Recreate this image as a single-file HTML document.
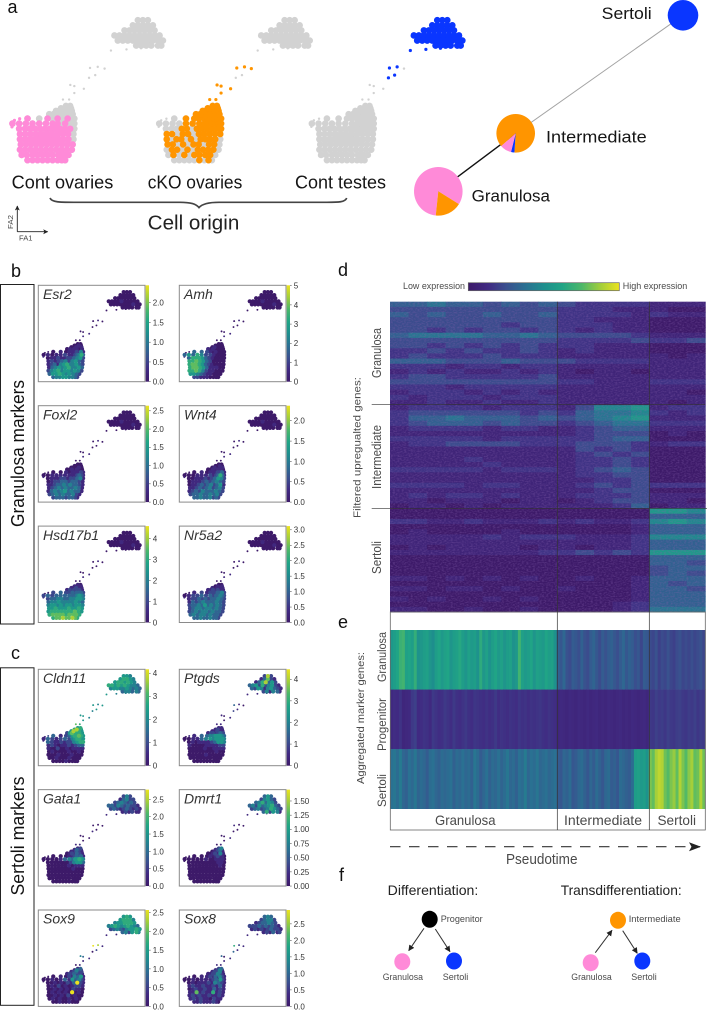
<!DOCTYPE html>
<html lang="en">
<head>
<meta charset="utf-8">
<title>Cell origin, markers and pseudotime figure</title>
<style>
html,body{margin:0;padding:0;background:#fff;width:707px;height:1010px;overflow:hidden}
svg{display:block;font-family:"Liberation Sans",sans-serif}
.letter{font-size:18px;fill:#111}
.big{font-size:18px;fill:#151515}
.grey{fill:#4a4a4a}
</style>
</head>
<body>
<svg id="figure" width="707" height="1010" viewBox="0 0 707 1010" xmlns="http://www.w3.org/2000/svg">
<defs>
  <linearGradient id="viridis-v" x1="0" y1="1" x2="0" y2="0"></linearGradient>
  <linearGradient id="viridis-h" x1="0" y1="0" x2="1" y2="0"></linearGradient>
  <marker id="arrow-head" markerWidth="7" markerHeight="7" refX="5.5" refY="3" orient="auto" markerUnits="userSpaceOnUse"><path d="M0,0 L6,3 L0,6 Z" fill="#222"/></marker>
  <marker id="axis-head" markerWidth="6" markerHeight="6" refX="4.5" refY="2.5" orient="auto" markerUnits="userSpaceOnUse"><path d="M0,0 L5,2.5 L0,5 L1.2,2.5 Z" fill="#222"/></marker>
  <marker id="big-head" markerWidth="13" markerHeight="10" refX="11" refY="4.5" orient="auto" markerUnits="userSpaceOnUse"><path d="M0,0 L12,4.5 L0,9 L2.5,4.5 Z" fill="#222"/></marker>
  <filter id="grain" x="0" y="0" width="100%" height="100%"><feTurbulence type="fractalNoise" baseFrequency="0.45 0.8" numOctaves="2" seed="7"/><feColorMatrix type="matrix" values="0 0 0 0 0.24  0 0 0 0 0.12  0 0 0 0 0.42  0 0 0 2.6 -1.05"/></filter>
</defs>

<rect width="707" height="1010" fill="#fff"/>

<!-- panel letters -->
<text class="letter" x="7.5" y="13">a</text>
<text class="letter" x="11" y="277">b</text>
<text class="letter" x="11" y="659">c</text>
<text class="letter" x="338" y="276">d</text>
<text class="letter" x="338" y="628">e</text>
<text class="letter" x="339" y="881">f</text>

<!-- panel a -->
<g id="origin-scatter"></g>
<text class="big" x="11.7" y="188.5" textLength="101.6" lengthAdjust="spacingAndGlyphs">Cont ovaries</text>
<text class="big" x="147.7" y="188.5" textLength="94.6" lengthAdjust="spacingAndGlyphs">cKO ovaries</text>
<text class="big" x="295" y="188.5" textLength="91" lengthAdjust="spacingAndGlyphs">Cont testes</text>
<path d="M50,198 C52,202.5 60,202.3 76,202.3 L180,202.3 C191,202.3 196,204 199,207.6 C202,204 208,202.3 219,202.3 L325,202.3 C338,202.3 345,202.5 346.7,198" fill="none" stroke="#444" stroke-width="1.7"/>
<text x="147.7" y="229.5" font-size="20" fill="#222" textLength="91.6" lengthAdjust="spacingAndGlyphs">Cell origin</text>
<line x1="17.3" y1="231.7" x2="17.3" y2="206" stroke="#222" stroke-width="0.9" marker-end="url(#axis-head)"/>
<line x1="17.3" y1="231.7" x2="47.7" y2="231.7" stroke="#222" stroke-width="0.9" marker-end="url(#axis-head)"/>
<text transform="translate(13,229) rotate(-90)" font-size="7.5" fill="#444" textLength="14" lengthAdjust="spacingAndGlyphs">FA2</text>
<text x="19" y="240.7" font-size="7.5" fill="#444" textLength="13.5" lengthAdjust="spacingAndGlyphs">FA1</text>

<!-- network -->
<line x1="515.7" y1="133.3" x2="683" y2="15.3" stroke="#a3a3a3" stroke-width="1"/>
<line x1="438.3" y1="191.3" x2="515.7" y2="133.3" stroke="#111" stroke-width="1.4"/>
<g id="pie-nodes"></g>
<text x="601.7" y="19" font-size="16.5" fill="#151515" textLength="50" lengthAdjust="spacingAndGlyphs">Sertoli</text>
<text x="546" y="142.7" font-size="16.5" fill="#151515" textLength="100.7" lengthAdjust="spacingAndGlyphs">Intermediate</text>
<text x="471.7" y="201.7" font-size="16.5" fill="#151515" textLength="78.3" lengthAdjust="spacingAndGlyphs">Granulosa</text>

<!-- panels b and c -->
<rect x="0.5" y="284.5" width="33.5" height="339.5" fill="#fff" stroke="#222" stroke-width="1"/>
<rect x="0.5" y="667.8" width="33.5" height="337.5" fill="#fff" stroke="#222" stroke-width="1"/>
<text transform="translate(24,453.5) rotate(-90)" text-anchor="middle" font-size="18" fill="#111" textLength="147" lengthAdjust="spacingAndGlyphs">Granulosa markers</text>
<text transform="translate(24,836) rotate(-90)" text-anchor="middle" font-size="18" fill="#111" textLength="119" lengthAdjust="spacingAndGlyphs">Sertoli markers</text>
<g id="gene-panels"></g>

<!-- panel d -->
<text class="grey" x="403" y="289.2" font-size="9.5" textLength="62" lengthAdjust="spacingAndGlyphs">Low expression</text>
<rect x="468.3" y="282.7" width="151" height="8" fill="url(#viridis-h)" stroke="#666" stroke-width="0.7"/>
<text class="grey" x="622.7" y="289.2" font-size="9.5" textLength="64.6" lengthAdjust="spacingAndGlyphs">High expression</text>
<g id="gene-heatmap"></g>
<rect x="390" y="301.7" width="315.3" height="310.3" filter="url(#grain)" opacity="0.35"/>
<text class="grey" transform="translate(360.5,518) rotate(-90)" font-size="10.5" textLength="141" lengthAdjust="spacingAndGlyphs">Filtered upregualted genes:</text>
<text class="grey" transform="translate(381,378) rotate(-90)" font-size="12.5" textLength="50" lengthAdjust="spacingAndGlyphs">Granulosa</text>
<text class="grey" transform="translate(381,489) rotate(-90)" font-size="12.5" textLength="64" lengthAdjust="spacingAndGlyphs">Intermediate</text>
<text class="grey" transform="translate(381,574) rotate(-90)" font-size="12.5" textLength="33" lengthAdjust="spacingAndGlyphs">Sertoli</text>
<line x1="371.7" y1="404.3" x2="705.3" y2="404.3" stroke="#333" stroke-width="0.7"/>
<line x1="371.7" y1="508.3" x2="707" y2="508.3" stroke="#333" stroke-width="0.7"/>

<!-- panel e -->
<g id="marker-heatmap"></g>
<rect x="390.3" y="612" width="315" height="218" fill="none" stroke="#666" stroke-width="0.8"/>
<line x1="557.3" y1="301.7" x2="557.3" y2="830" stroke="#333" stroke-width="0.7"/>
<line x1="649.3" y1="301.7" x2="649.3" y2="830" stroke="#333" stroke-width="0.7"/>
<text class="grey" transform="translate(364,784) rotate(-90)" font-size="10.5" textLength="132" lengthAdjust="spacingAndGlyphs">Aggregated marker genes:</text>
<text class="grey" transform="translate(386,682) rotate(-90)" font-size="11.5" textLength="50" lengthAdjust="spacingAndGlyphs">Granulosa</text>
<text class="grey" transform="translate(386,751) rotate(-90)" font-size="11.5" textLength="53" lengthAdjust="spacingAndGlyphs">Progenitor</text>
<text class="grey" transform="translate(386,807) rotate(-90)" font-size="11.5" textLength="33" lengthAdjust="spacingAndGlyphs">Sertoli</text>
<text class="grey" x="435" y="825" font-size="14" textLength="60.5" lengthAdjust="spacingAndGlyphs">Granulosa</text>
<text class="grey" x="564" y="825" font-size="14" textLength="78" lengthAdjust="spacingAndGlyphs">Intermediate</text>
<text class="grey" x="657.5" y="825" font-size="14" textLength="38.5" lengthAdjust="spacingAndGlyphs">Sertoli</text>
<line x1="390" y1="846.7" x2="700" y2="846.7" stroke="#333" stroke-width="1.2" stroke-dasharray="10.5 8.5" marker-end="url(#big-head)"/>
<text class="grey" x="506" y="864" font-size="15" textLength="71.5" lengthAdjust="spacingAndGlyphs">Pseudotime</text>

<!-- panel f -->
<text x="387.7" y="895" font-size="14" fill="#222" textLength="90.6" lengthAdjust="spacingAndGlyphs">Differentiation:</text>
<text x="560.7" y="895" font-size="14" fill="#222" textLength="121" lengthAdjust="spacingAndGlyphs">Transdifferentiation:</text>
<ellipse cx="429.7" cy="919.3" rx="8" ry="8.5" fill="#000"/>
<ellipse cx="402.3" cy="961.7" rx="8" ry="8.5" fill="#ff8ad8"/>
<ellipse cx="454" cy="961" rx="8" ry="8.5" fill="#0a36ff"/>
<line x1="424" y1="928.3" x2="408.7" y2="950.7" stroke="#333" stroke-width="1" marker-end="url(#arrow-head)"/>
<line x1="435.3" y1="929" x2="450" y2="951.7" stroke="#333" stroke-width="1" marker-end="url(#arrow-head)"/>
<text class="grey" x="440.7" y="922" font-size="9.5" textLength="42" lengthAdjust="spacingAndGlyphs">Progenitor</text>
<text class="grey" x="382.7" y="980" font-size="9.5" textLength="40.3" lengthAdjust="spacingAndGlyphs">Granulosa</text>
<text class="grey" x="442.7" y="980" font-size="9.5" textLength="25.6" lengthAdjust="spacingAndGlyphs">Sertoli</text>
<ellipse cx="618" cy="920.3" rx="8" ry="8.5" fill="#ff9500"/>
<ellipse cx="590.7" cy="962.7" rx="8" ry="8.5" fill="#ff8ad8"/>
<ellipse cx="642.3" cy="961" rx="8" ry="8.5" fill="#0a36ff"/>
<line x1="595.3" y1="952.7" x2="612" y2="930.3" stroke="#333" stroke-width="1" marker-end="url(#arrow-head)"/>
<line x1="622.7" y1="930.7" x2="637.3" y2="953.3" stroke="#333" stroke-width="1" marker-end="url(#arrow-head)"/>
<text class="grey" x="628.7" y="922" font-size="9.5" textLength="52" lengthAdjust="spacingAndGlyphs">Intermediate</text>
<text class="grey" x="571.3" y="980" font-size="9.5" textLength="40.4" lengthAdjust="spacingAndGlyphs">Granulosa</text>
<text class="grey" x="631.3" y="980" font-size="9.5" textLength="25.4" lengthAdjust="spacingAndGlyphs">Sertoli</text>
</svg>

<script>
// ---------- embedding: FA coordinates of each plotted cell ----------
const cellFA1 = [
 14,17,20,23,26,29,32,34.5,36.5,
 10.5,13.5,17,20,23,26,29,32.5,35.5,38.5,
 9.5,12.6,15.7,18.8,21.9,25,28.1,31.2,34.3,37.4,40.5,
 10,13.1,16.2,19.3,22.4,25.5,28.6,31.7,34.8,37.9,41,
 9.5,12.4,15.3,18.2,21.1,24,26.9,29.8,32.7,35.6,38.5,41.5,
 9.5,12.7,15.9,19.1,22.3,25.5,28.7,31.9,35.1,38.3,41.5,
 9,12.5,15.5,18.5,21.5,24.5,27.5,30.5,33.5,36.5,39.5,42,
 5,9,13,17,21,25,29,32,34.5,36.5,38.5,40.5,42,
 14,21,26,29,32,34,36,38,40,42,
 27,29.5,31.5,33.5,36,38.5,41,
 31,33,35.5,38,40.5,
 34,36,38,40,
 37,39.5,
 80,83,86,
 77,80,83,86,89,
 72,75,78,81,84,87,90,
 66,69,72,75,78,81,84,87,90,93,
 68,71,74,77,80,83,86,89,92,95,
 79,82,85,88,92,94,
 73.2,63.9,81.9,60.1,56,51.4,54.5,50.8,47.7,42,39.6,42,38.9,35.2,4.7,6.2,9.3
];
const cellFA2 = [
 4.8,4.8,4.8,4.8,4.8,4.8,4.8,4.8,4.8,
 8.1,8.1,8.1,8.1,8.1,8.1,8.1,8.1,8.1,8.1,
 11.4,11.4,11.4,11.4,11.4,11.4,11.4,11.4,11.4,11.4,11.4,
 14.7,14.7,14.7,14.7,14.7,14.7,14.7,14.7,14.7,14.7,14.7,
 18,18,18,18,18,18,18,18,18,18,18,18,
 21.3,21.3,21.3,21.3,21.3,21.3,21.3,21.3,21.3,21.3,21.3,
 24.6,24.6,24.6,24.6,24.6,24.6,24.6,24.6,24.6,24.6,24.6,24.6,
 27.9,27.9,27.9,27.9,27.9,27.9,27.9,27.9,27.9,27.9,27.9,27.9,27.9,
 31,31,31,31,31,31,31,31,31,31,
 33.8,33.8,33.8,33.8,33.8,33.8,33.8,
 35.8,35.8,35.8,35.8,35.8,
 37.5,37.5,37.5,37.5,
 39,39,
 93,93,93,
 89.8,89.8,89.8,89.8,89.8,
 86.6,86.6,86.6,86.6,86.6,86.6,86.6,
 83.4,83.4,83.4,83.4,83.4,83.4,83.4,83.4,83.4,83.4,
 80.2,80.2,80.2,80.2,80.2,80.2,80.2,80.2,80.2,80.2,
 77,77,77,77,77,77,
 74.6,73.9,75.3,62.5,63.6,62.9,58.4,56.7,49.8,51.5,52.2,47.1,43,43,25.8,29.9,30.9
];
const denseCellCount = 158;

// ---------- origin membership of each cell ----------
const originOvary = [
 1,1,1,1,1,1,1,1,1,
 1,1,1,1,1,1,1,1,1,1,
 1,1,1,1,1,1,1,1,1,1,1,
 1,1,1,1,1,1,1,1,1,1,1,
 1,1,1,1,1,1,1,1,1,1,1,0,
 1,1,1,1,1,1,1,1,1,1,0,
 1,1,1,1,1,1,1,1,1,1,1,0,
 1,1,1,1,1,1,1,1,0,1,0,0,0,
 1,0,1,0,1,0,0,1,0,0,
 0,0,0,0,0,0,0, 0,0,0,0,0, 0,0,0,0, 0,0,
 0,0,0, 0,0,0,0,0, 0,0,0,0,0,0,0, 0,0,0,0,0,0,0,0,0,0, 0,0,0,0,0,0,0,0,0,0, 0,0,0,0,0,0,
 0,0,0,0,0,0,0,0,0,0,0,0,0,0,1,1,1
];
const originKO = [
 0,0,0,0,0,1,0,1,0,
 0,1,0,1,0,1,1,1,1,0,
 0,1,1,0,1,0,1,1,1,1,0,
 1,1,0,1,0,1,1,0,1,1,0,
 1,0,1,1,0,1,0,1,1,1,1,0,
 1,1,0,1,1,0,1,1,1,1,1,
 0,0,0,1,1,0,1,1,1,1,1,1,
 0,0,0,0,1,1,1,1,1,1,1,1,1,
 0,1,1,1,1,1,1,1,1,1,
 1,1,1,1,1,1,1, 1,1,1,1,1, 1,1,1,1, 1,1,
 0,0,0, 0,0,0,0,0, 0,0,0,0,0,0,0, 0,0,0,0,0,0,0,0,0,0, 0,0,0,0,0,0,0,0,0,0, 0,0,0,0,0,0,
 0,0,0,1,1,1,0,0,1,1,1,1,1,1,0,0,0
];
const originTestis = [
 0,0,0,0,0,0,0,0,0, 0,0,0,0,0,0,0,0,0,0, 0,0,0,0,0,0,0,0,0,0,0, 0,0,0,0,0,0,0,0,0,0,0,
 0,0,0,0,0,0,0,0,0,0,0,0, 0,0,0,0,0,0,0,0,0,0,0, 0,0,0,0,0,0,0,0,0,0,0,0, 0,0,0,0,0,0,0,0,0,0,0,0,0,
 0,0,0,0,0,0,0,0,0,0, 0,0,0,0,0,0,0, 0,0,0,0,0, 0,0,0,0, 0,0,
 1,1,1, 1,1,1,1,1, 1,1,1,1,1,1,1, 1,1,1,1,1,1,1,1,1,1, 1,1,1,1,1,1,1,1,1,1, 1,1,1,1,1,1,
 1,1,1,0,1,1,1,1,0,0,0,0,0,0,0,0,0
];

// ---------- gene expression per cell (levels 0-9 of the colour scale) ----------
const silentUpperCells = [
 0,0,0, 0,0,0,0,0, 0,0,0,0,0,0,0, 0,0,0,0,1,0,0,0,0,0, 0,0,0,0,0,0,0,1,0,0, 0,0,0,0,0,0,
 0,0,0,0,1,0,0,0,1,0,0,1,0,0,1,0,0
];
const exprEsr2 = [
 3,4,4,5,5,4,4,3,2, 3,5,5,6,5,4,5,4,3,2, 2,4,5,6,4,5,5,4,5,4,2, 1,3,4,5,4,5,6,4,4,5,3,
 1,2,3,1,4,5,6,4,4,5,3,2, 1,2,1,2,3,4,2,4,5,3,2, 0,1,1,2,1,1,2,2,3,4,5,2,
 0,1,0,1,1,2,1,1,2,3,4,6,3, 0,1,0,1,1,1,2,1,4,1, 0,1,0,1,1,0,1, 0,0,1,0,1, 0,0,1,0, 0,0
].concat(silentUpperCells);
const exprAmh = [
 2,2,1,1,1,0,0,0,0, 5,5,4,3,2,1,1,0,0,0, 6,6,7,6,4,2,1,1,0,0,0, 6,7,7,6,5,3,1,1,1,0,0,
 6,7,7,6,5,3,2,1,0,0,0,0, 6,6,7,6,5,3,2,0,0,0,0, 3,6,6,6,5,3,2,1,0,0,0,0,
 3,5,3,6,4,2,2,1,0,0,0,0,0, 3,3,2,1,0,1,0,0,0,0, 1,0,1,0,0,0,0, 0,1,0,0,0, 0,0,0,0, 0,0
].concat(silentUpperCells);
const exprFoxl2 = [
 2,3,3,3,2,3,3,2,1, 2,3,4,3,4,3,3,4,2,1, 1,3,4,3,4,5,3,4,3,3,1, 1,2,3,4,3,4,3,3,4,3,1,
 1,1,2,3,3,4,3,4,3,3,2,1, 0,1,2,2,3,3,2,3,3,2,1, 0,1,1,1,2,2,1,2,2,3,4,1,
 0,0,1,1,1,1,1,1,1,2,3,2,1, 0,0,1,0,1,1,1,1,2,1, 0,0,1,0,1,0,0, 0,0,0,1,0, 0,0,0,0, 0,0
].concat(silentUpperCells);
const exprWnt4 = [
 3,3,4,3,3,4,2,3,2, 2,3,3,4,3,3,4,3,4,2, 1,2,3,2,4,3,3,3,4,3,2, 1,1,2,3,2,3,4,2,3,4,2,
 0,1,1,2,3,2,3,4,2,3,5,1, 0,1,1,1,2,3,2,3,4,3,2, 0,0,1,1,1,2,1,2,3,5,4,2,
 0,0,0,1,1,1,2,1,2,3,6,3,1, 0,1,0,1,1,1,2,2,3,1, 0,0,1,0,1,1,0, 0,1,0,0,1, 0,0,1,0, 0,0
].concat(silentUpperCells);
const exprHsd17b1 = [
 6,7,7,8,7,7,8,7,6, 6,7,7,7,7,6,7,7,7,6, 5,6,6,6,6,6,6,6,7,6,5, 5,5,6,5,5,5,6,5,5,6,5,
 4,5,5,4,5,4,5,5,4,5,5,4, 3,4,4,5,4,4,4,4,5,4,3, 2,3,3,4,4,3,3,4,4,5,5,4,
 2,3,2,3,3,3,3,3,3,4,5,4,3, 2,3,2,2,3,2,3,3,3,2, 1,2,1,2,2,2,1, 1,1,2,1,1, 1,1,1,1, 1,0
].concat(silentUpperCells);
const exprNr5a2 = [
 3,3,4,3,3,4,3,3,2, 3,4,3,4,4,3,4,3,3,2, 2,3,4,3,4,4,3,4,3,3,2, 2,3,4,4,3,4,4,3,4,3,2,
 2,3,3,4,3,5,3,4,3,4,3,2, 1,3,2,3,4,3,3,3,4,3,2, 1,2,2,3,2,3,2,3,3,4,3,2,
 0,1,2,2,3,2,3,2,3,3,4,3,2, 1,2,1,2,2,2,3,3,4,2, 1,1,2,1,2,1,1, 1,0,1,1,1, 0,1,0,1, 0,0
].concat(silentUpperCells);
const exprCldn11 = [
 0,0,0,0,1,0,0,0,0, 0,0,1,0,0,0,1,0,0,0, 0,0,0,1,0,0,0,1,0,0,0, 0,1,0,0,0,0,1,0,0,1,0,
 1,0,0,2,0,0,1,0,1,1,1,1, 1,2,1,0,1,1,2,1,2,3,3, 3,2,1,1,2,1,2,2,4,5,6,6,
 1,3,2,1,2,3,2,4,5,6,6,5,5, 3,1,2,3,5,6,6,7,6,5, 2,5,7,6,6,6,5, 5,8,6,6,5, 6,8,6,5, 5,6,
 5,5,4, 5,6,6,5,4, 5,6,6,5,6,5,4, 6,6,5,6,5,6,5,4,4,3, 4,5,5,4,4,5,4,3,4,3, 3,4,4,3,4,3,
 4,5,4,5,4,5,5,4,4,5,5,5,6,7,1,1,2
];
const exprPtgds = [
 0,0,0,0,0,0,0,0,0, 0,0,0,0,0,0,0,0,0,0, 0,0,0,0,0,1,0,0,0,0,0, 0,0,0,0,0,0,0,0,1,0,0,
 0,0,0,0,0,1,0,0,1,1,1,1, 1,0,0,0,0,1,1,1,1,2,2, 0,1,0,1,1,1,1,2,3,5,5,4,
 0,0,1,1,3,4,5,4,5,5,5,5,4, 1,3,3,4,4,5,5,5,4,3, 1,2,2,1,2,3,2, 1,1,2,1,1, 1,2,1,1, 1,1,
 2,8,2, 1,3,7,2,1, 1,3,6,8,3,5,2, 3,4,5,2,6,2,4,5,2,1, 3,2,5,4,1,4,5,3,2,1, 2,4,1,4,3,1,
 1,1,1,0,1,3,1,2,1,0,1,0,1,1,0,0,1
];
const exprGata1 = [
 0,0,0,0,0,0,0,0,0, 0,0,0,0,0,0,0,0,0,0, 0,0,0,0,0,0,0,0,0,0,0, 0,0,0,0,0,0,0,0,0,0,0,
 0,0,0,0,0,0,0,0,1,0,0,0, 0,0,0,0,0,0,1,0,1,1,1, 0,0,0,0,0,0,0,2,4,5,5,3,
 0,0,0,0,1,3,4,3,5,5,6,5,4, 0,0,0,1,1,2,3,2,3,1, 0,1,2,1,3,2,1, 1,1,2,1,1, 1,3,2,1, 1,2,
 2,4,2, 1,3,4,2,2, 2,3,4,3,2,3,2, 3,3,2,4,3,2,3,2,2,1, 2,3,2,1,2,3,2,1,2,1, 1,2,1,2,1,1,
 1,1,1,0,0,0,0,1,0,0,0,0,1,1,0,0,0
];
const exprDmrt1 = [
 0,0,0,0,0,0,0,0,0, 0,0,0,0,0,0,0,0,0,0, 0,0,0,0,0,0,0,0,0,0,0, 0,0,0,0,0,0,0,0,0,0,0,
 0,0,0,0,0,0,0,0,0,0,0,0, 0,0,0,0,0,0,0,0,0,1,0, 0,0,0,0,0,0,0,0,0,1,1,0,
 0,0,0,0,0,1,0,0,1,1,1,1,0, 0,0,0,1,0,1,2,1,1,0, 0,0,1,2,1,4,1, 0,1,1,2,1, 1,2,3,1, 2,4,
 3,5,3, 2,4,5,3,2, 3,4,6,3,5,4,2, 3,4,2,5,3,4,5,6,3,2, 2,3,4,2,3,4,6,5,3,2, 3,6,2,5,4,1,
 1,1,1,0,0,1,0,0,1,0,0,0,1,0,0,0,0
];
const exprSox9 = [
 0,0,1,0,0,1,0,0,0, 0,1,0,1,0,0,1,0,1,0, 0,0,1,0,1,0,2,0,1,0,0, 0,1,0,1,0,1,0,9,0,1,0,
 0,0,1,0,1,0,1,0,2,1,1,0, 0,1,0,2,0,1,0,1,2,2,1, 0,0,1,0,1,0,2,1,3,9,2,1,
 0,0,1,0,1,3,1,5,2,3,4,2,1, 0,1,0,2,1,4,2,3,5,1, 1,2,1,3,2,2,1, 1,2,3,1,2, 1,4,2,1, 1,3,
 5,6,5, 5,6,6,6,4, 4,5,5,6,6,6,5, 4,5,6,5,4,5,6,5,4,3, 2,3,4,3,2,4,5,5,6,5, 3,4,2,5,6,4,
 1,1,2,1,8,9,2,0,1,3,4,1,1,0,0,0,0
];
const exprSox8 = [
 1,1,2,1,1,1,2,1,0, 1,2,1,2,1,1,0,2,1,1, 1,2,1,2,1,1,2,1,1,2,1, 1,1,7,1,2,1,1,6,1,2,1,
 0,1,2,1,1,2,1,1,3,1,2,1, 1,2,1,1,2,1,1,2,1,3,1, 0,1,0,1,1,1,2,1,4,3,2,1,
 0,0,1,0,1,1,1,2,3,1,5,2,1, 0,1,1,2,1,3,1,4,2,1, 1,1,2,1,4,2,1, 1,2,1,4,1, 1,2,4,1, 2,3,
 3,4,3, 2,3,4,4,2, 1,2,3,3,4,3,2, 2,2,2,3,2,3,2,3,2,1, 1,2,1,2,1,2,3,2,2,1, 1,2,1,3,1,2,
 1,1,1,1,2,6,1,3,1,0,3,1,1,1,0,0,0
];

// ---------- gene panels: names, colour bar maxima, tick labels ----------
const geneNames = ["Esr2","Amh","Foxl2","Wnt4","Hsd17b1","Nr5a2","Cldn11","Ptgds","Gata1","Dmrt1","Sox9","Sox8"];
const geneExpression = [exprEsr2,exprAmh,exprFoxl2,exprWnt4,exprHsd17b1,exprNr5a2,exprCldn11,exprPtgds,exprGata1,exprDmrt1,exprSox9,exprSox8];
const geneScaleMax = [2.44,5.02,2.64,2.37,4.6,3.12,4.17,4.46,2.78,1.7,2.57,2.92];
const geneTickLabels = [
 ["0.0","0.5","1.0","1.5","2.0"],
 ["0","1","2","3","4","5"],
 ["0.0","0.5","1.0","1.5","2.0","2.5"],
 ["0.0","0.5","1.0","1.5","2.0"],
 ["0","1","2","3","4"],
 ["0.0","0.5","1.0","1.5","2.0","2.5","3.0"],
 ["0","1","2","3","4"],
 ["0","1","2","3","4"],
 ["0.0","0.5","1.0","1.5","2.0","2.5"],
 ["0.00","0.25","0.50","0.75","1.00","1.25","1.50"],
 ["0.0","0.5","1.0","1.5","2.0","2.5"],
 ["0.0","0.5","1.0","1.5","2.0","2.5"]
];

// ---------- network pies: share of cells by origin ----------
const pieGranulosaShares = [0.822,0.178];
const pieIntermediateShares = [0.876,0.028,0.096];
const pieSertoliShares = [1];

// ---------- panel d: upregulated genes (rows) across pseudotime bins (cols) ----------
const geneHeatRows = [
 [4,4,5,4,4,3,4,3,4,3,2,2,2,2,1,1,1],
 [3,3,3,3,3,3,3,3,3,2,2,2,1,1,1,0,0],
 [4,3,4,3,3,4,3,3,4,2,2,2,2,1,2,1,1],
 [3,3,3,3,3,3,3,3,3,2,2,1,1,1,0,0,0],
 [3,3,3,3,3,3,2,3,3,2,2,2,1,1,0,0,0],
 [3,3,2,3,2,3,3,2,3,2,1,2,1,1,0,0,0],
 [4,5,5,5,5,4,4,5,4,3,3,3,3,2,1,1,1],
 [3,3,3,3,3,3,3,3,3,2,2,2,2,3,2,2,3],
 [3,3,2,3,2,3,2,3,2,2,2,1,1,1,0,0,0],
 [2,2,3,2,3,2,2,3,2,1,2,1,1,1,0,0,0],
 [2,3,2,2,2,3,2,2,2,1,1,1,1,1,1,0,1],
 [4,4,4,3,3,3,4,3,3,3,2,2,2,2,1,1,1],
 [2,2,2,1,2,2,1,2,2,1,1,1,1,1,1,1,1],
 [1,2,1,2,1,1,2,1,2,1,0,1,1,0,1,1,1],
 [2,3,3,2,2,2,2,2,3,1,1,1,1,1,1,1,1],
 [3,3,3,3,3,3,3,3,3,2,2,1,1,1,2,2,2],
 [2,2,2,1,2,2,2,2,2,1,1,1,1,1,1,1,1],
 [1,2,2,2,1,2,1,2,1,1,1,1,1,1,1,1,0],
 [2,1,2,2,2,1,2,2,2,1,1,1,1,1,1,1,1],
 [1,1,2,1,1,2,1,1,2,1,1,1,1,1,1,0,1],
 [1,2,2,2,2,1,2,2,2,1,3,6,6,7,1,2,2],
 [2,3,3,3,3,3,3,2,3,2,4,5,5,6,2,1,2],
 [2,4,4,5,4,4,4,3,4,3,4,5,6,7,1,1,1],
 [2,3,4,4,4,3,4,3,3,2,3,4,5,5,2,2,2],
 [1,2,2,2,2,1,2,2,1,1,2,3,4,4,1,1,1],
 [1,1,1,1,1,1,1,1,1,1,2,3,3,3,0,1,0],
 [2,2,2,2,2,1,2,2,2,2,2,3,4,4,0,0,0],
 [1,2,2,3,3,3,3,2,2,2,3,3,3,2,1,2,2],
 [1,1,1,1,1,1,1,1,1,1,3,2,3,2,0,0,0],
 [1,1,1,1,1,1,1,1,1,1,2,3,2,3,0,0,0],
 [1,1,1,1,2,1,1,1,1,1,2,2,3,2,0,0,0],
 [1,1,1,1,1,2,1,1,1,1,2,2,3,2,0,0,0],
 [2,2,2,2,2,1,2,2,2,1,2,3,4,3,0,0,0],
 [1,1,1,1,1,1,1,1,1,1,2,2,3,3,0,0,0],
 [1,1,1,1,1,1,1,1,1,1,1,2,2,3,0,0,0],
 [2,2,2,2,1,2,2,1,1,1,2,3,2,3,2,2,2],
 [1,1,1,1,1,1,1,1,1,1,1,2,3,3,0,0,0],
 [1,2,1,2,2,1,2,1,1,1,2,2,2,3,1,1,1],
 [1,1,0,1,1,1,0,1,1,0,1,2,3,3,1,1,0],
 [0,1,1,0,1,0,1,1,1,1,1,1,2,4,0,1,1],
 [0,0,0,0,0,0,0,0,0,0,0,0,0,0,7,7,6],
 [0,0,0,0,0,0,0,0,0,0,0,0,0,0,4,4,4],
 [2,2,1,1,2,1,1,1,2,1,2,1,1,2,6,7,6],
 [0,0,0,0,0,0,0,0,0,0,0,0,0,1,4,4,4],
 [0,1,0,0,0,0,1,0,0,0,0,0,0,1,4,4,4],
 [1,1,1,1,1,2,1,2,2,2,1,1,1,2,6,6,6],
 [1,1,1,1,1,1,1,1,1,1,1,1,1,2,4,4,4],
 [0,1,0,1,1,1,1,0,1,1,0,1,1,2,4,4,4],
 [1,1,1,1,1,1,1,1,2,2,3,2,3,2,7,7,7],
 [0,0,0,0,0,0,0,0,0,0,0,0,0,0,4,4,4],
 [0,0,0,0,0,0,0,0,0,0,0,0,0,0,4,4,3],
 [0,0,0,0,0,0,0,0,0,0,0,0,0,0,3,4,4],
 [0,0,0,0,0,0,0,0,0,0,0,0,0,0,3,4,3],
 [1,1,0,1,0,1,0,1,0,0,1,0,0,1,4,4,4],
 [0,0,0,0,0,0,0,0,0,0,0,0,0,1,4,3,4],
 [1,1,0,1,1,0,1,0,0,1,0,0,0,1,4,4,3],
 [0,0,0,0,0,0,0,0,0,0,0,0,0,1,4,4,4],
 [1,0,1,0,0,1,0,1,0,0,0,0,0,1,4,4,4],
 [0,0,0,0,0,0,0,0,0,0,0,0,1,2,4,4,4],
 [1,1,0,0,1,0,0,1,0,0,0,0,1,2,5,5,5]
];

// ---------- panel e: aggregated marker scores per pseudotime bin (0-100) ----------
const scoreGranulosa = [
 55,58,62,70,72,60,62,58,68,52,55,58,60,54,50,58,62,56,60,62,54,58,60,64,58,54,60,56,58,52,
 66,55,60,52,58,62,56,60,54,58,60,52,55,72,60,56,58,62,54,60,58,56,62,58,60,52,
 32,28,34,26,24,30,28,25,32,26,24,30,33,28,24,30,26,30,32,28,25,30,34,28,32,30,25,28,22,30,28,
 24,22,26,20,24,22,26,22,20,24,26,22,24,22,25,22,24,26,22
];
const scoreProgenitor = [
 12,14,13,16,10,11,12,18,20,13,14,16,15,12,18,16,14,15,18,16,14,18,15,14,16,18,15,14,17,16,
 15,14,16,14,15,18,14,16,15,14,16,15,14,17,15,16,14,16,15,16,17,15,14,16,15,14,
 10,12,11,10,12,11,10,12,11,10,12,10,11,12,10,11,10,12,11,10,11,12,10,11,10,12,11,10,11,12,10,
 18,17,20,18,19,17,20,18,17,19,20,18,17,19,18,20,17,19,18
];
const scoreSertoli = [
 38,40,36,42,34,32,38,35,40,33,36,34,30,36,38,34,32,36,34,36,38,32,36,34,38,34,36,32,40,36,
 30,34,38,32,36,34,38,33,36,40,34,36,32,38,36,42,34,38,36,40,34,36,38,34,36,38,
 30,28,34,32,36,28,30,34,36,32,28,34,30,36,32,28,34,36,30,32,28,36,34,32,30,36,58,60,56,58,52,
 82,78,88,92,90,80,76,82,86,78,90,82,76,84,88,78,80,90,80
];

// ---------- axis and scale functions ----------
const SVG_NS = "http://www.w3.org/2000/svg";
const viridisOffsets = [0,.13,.25,.38,.5,.62,.75,.88,1];
const viridisColours = ["#3d1a69","#402a82","#3a4f8e","#2a7192","#1e8e8d","#20a486","#4cb76a","#a5cf3a","#ece31f"];

function make(tag, attrs, parent) {
  const el = document.createElementNS(SVG_NS, tag);
  for (const k in attrs) el.setAttribute(k, attrs[k]);
  if (parent) parent.appendChild(el);
  return el;
}
function hexToRgb(h) { return [1,3,5].map(i => parseInt(h.substr(i,2),16)); }
function viridis(t) {
  t = Math.max(0, Math.min(1, t));
  let i = 0;
  while (i < viridisOffsets.length - 2 && t > viridisOffsets[i+1]) i++;
  const f = (t - viridisOffsets[i]) / (viridisOffsets[i+1] - viridisOffsets[i]);
  const a = hexToRgb(viridisColours[i]), b = hexToRgb(viridisColours[i+1]);
  return "rgb(" + a.map((v,n) => Math.round(v + (b[n]-v)*f)).join(",") + ")";
}
function levelColour(level) { return viridis(level / 9); }

["viridis-v","viridis-h"].forEach(id => {
  const g = document.getElementById(id);
  viridisOffsets.forEach((o,i) => make("stop", {offset:o, "stop-color":viridisColours[i]}, g));
});

// ---------- panel a scatter ----------
const originScatter = document.getElementById("origin-scatter");
const originGroups = [originOvary, originKO, originTestis];
const originNames = ["ovary","cko","testis"];
const originColours = ["#ff8ad8","#ff9500","#0a36ff"];
function originX(fa1, panel) { return 4.1 + 146.75 * panel + (panel === 2 ? 5.9 : 0) + fa1 * 1.672; }
function originY(fa2) { return 167.8 - fa2 * 1.587; }
originGroups.forEach((flags, p) => {
  cellFA1.forEach((fa1, i) => {
    const c = make("circle", {cx:originX(fa1,p), cy:originY(cellFA2[i]), r:i < denseCellCount ? 3.3 : 1.2, fill:"#d2d2d2"}, originScatter);
    
    
  });
  cellFA1.forEach((fa1, i) => {
    if (!flags[i]) return;
    const c = make("circle", {cx:originX(fa1,p), cy:originY(cellFA2[i]), r:i < denseCellCount ? 3.3 : 1.6, fill:originColours[p]}, originScatter);
    
    
  });
});

// ---------- gene panels ----------
const genePanels = document.getElementById("gene-panels");
const PANEL_W = 106.7, PANEL_H = 96.4;
function panelLeft(col) { return 38.3 + 141 * col; }
function panelTop(row) { return row < 3 ? 285.3 + 120.4 * row : 669.3 + 120.35 * (row - 3); }
geneNames.forEach((gene, g) => {
  const col = g % 2, row = Math.floor(g / 2);
  const left = panelLeft(col), top = panelTop(row), bottom = top + PANEL_H;
  const xOf = v => left + v * PANEL_W / 100;
  const yOf = v => bottom - v * PANEL_H / 100;

  const frame = make("rect", {x:left, y:top, width:PANEL_W, height:PANEL_H, fill:"#fff", stroke:"#8a8a8a", "stroke-width":1}, genePanels);
  
  

  const expr = geneExpression[g];
  const order = cellFA1.map((_, i) => i).sort((a,b) => (expr[a]||0) - (expr[b]||0));
  order.forEach(i => {
    const dot = make("circle", {cx:xOf(cellFA1[i]), cy:yOf(cellFA2[i]), r:i < denseCellCount ? 2.1 : 0.95, fill:levelColour(expr[i]||0)}, genePanels);
    
    
  });

  const title = make("text", {x:left + 4.7, y:top + 13.7, "font-size":14, "font-style":"italic", fill:"#333"}, genePanels);
  title.textContent = gene;
  
  

  const barX = left + PANEL_W + 0.7;
  const bar = make("rect", {x:barX, y:top, width:3.3, height:PANEL_H, fill:"url(#viridis-v)"}, genePanels);
  
  

  const scaleY = v => bottom - v / geneScaleMax[g] * PANEL_H;
  geneTickLabels[g].forEach(label => {
    const y = scaleY(parseFloat(label));
    const tick = make("line", {x1:barX + 3.3, x2:barX + 5, y1:y, y2:y, stroke:"#333", "stroke-width":0.5}, genePanels);
    
    
    const txt = make("text", {x:barX + 7, y:y + 2.9, "font-size":8, fill:"#333"}, genePanels);
    txt.textContent = label;
    
    
  });
});

// ---------- pies ----------
const pieNodes = document.getElementById("pie-nodes");
function drawPie(name, shares, colours, cx, cy, r, startDeg) {
  let angle = startDeg;
  shares.forEach((share, i) => {
    const sweep = share * 360;
    let el;
    if (share >= 0.9999) {
      el = make("circle", {cx:cx, cy:cy, r:r, fill:colours[i]}, pieNodes);
    } else {
      const rad = a => (a - 90) * Math.PI / 180;
      const x1 = cx + r * Math.cos(rad(angle)), y1 = cy + r * Math.sin(rad(angle));
      const x2 = cx + r * Math.cos(rad(angle + sweep)), y2 = cy + r * Math.sin(rad(angle + sweep));
      const d = "M" + cx + "," + cy + " L" + x1 + "," + y1 + " A" + r + "," + r + " 0 " + (sweep > 180 ? 1 : 0) + " 1 " + x2 + "," + y2 + " Z";
      el = make("path", {d:d, fill:colours[i]}, pieNodes);
    }
    
    
    angle += sweep;
  });
}
drawPie("granulosa", pieGranulosaShares, ["#ff8ad8","#ff9500"], 438.3, 191.3, 24.3, 186);
drawPie("intermediate", pieIntermediateShares, ["#ff9500","#0a36ff","#ff8ad8"], 515.7, 133.3, 19.3, 228.6);
drawPie("sertoli", pieSertoliShares, ["#0a36ff"], 683, 15.3, 15.3, 0);

// ---------- panel d heatmap ----------
const geneHeatmap = document.getElementById("gene-heatmap");
const HEAT_LEFT = 390, HEAT_RIGHT = 705.3, HEAT_TOP = 301.7, HEAT_BOTTOM = 612;
geneHeatRows.forEach((rowValues, r) => {
  const h = (HEAT_BOTTOM - HEAT_TOP) / geneHeatRows.length;
  const w = (HEAT_RIGHT - HEAT_LEFT) / rowValues.length;
  rowValues.forEach((v, c) => {
    const cell = make("rect", {x:HEAT_LEFT + c * w, y:HEAT_TOP + r * h, width:w + 0.4, height:h + 0.4, fill:viridis(v / 9 * 0.72)}, geneHeatmap);
    
    
  });
});

// ---------- panel e heatmap ----------
const markerHeatmap = document.getElementById("marker-heatmap");
const markerRows = [scoreGranulosa, scoreProgenitor, scoreSertoli];
const MARK_TOP = 630, MARK_BOTTOM = 808.7;
markerRows.forEach((scores, r) => {
  const h = (MARK_BOTTOM - MARK_TOP) / markerRows.length;
  const w = (HEAT_RIGHT - HEAT_LEFT) / scores.length;
  scores.forEach((s, c) => {
    const cell = make("rect", {x:HEAT_LEFT + c * w, y:MARK_TOP + r * h, width:w + 0.4, height:h + 0.3, fill:viridis(s / 100)}, markerHeatmap);
    
    
  });
});
</script>
</body>
</html>
